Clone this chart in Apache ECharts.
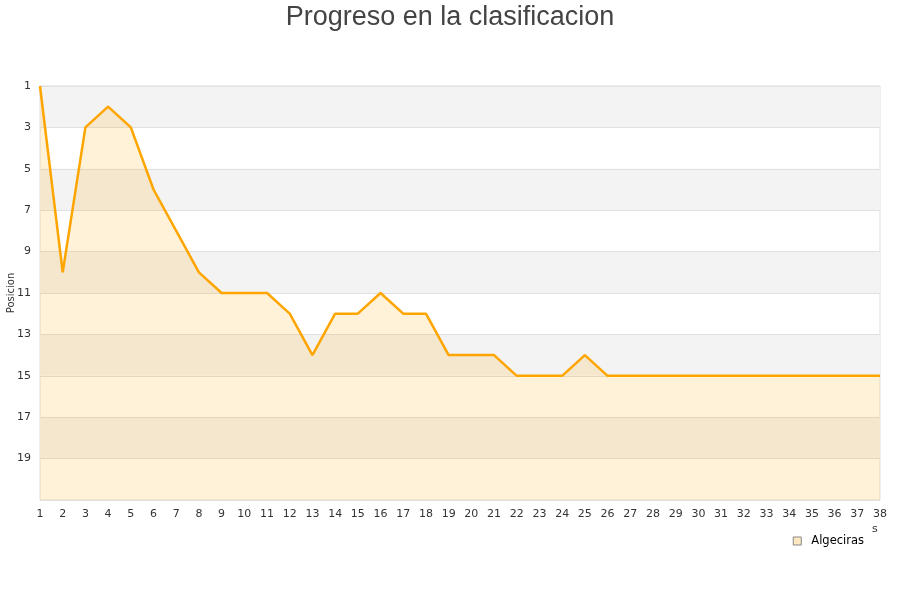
<!DOCTYPE html>
<html><head><meta charset="utf-8">
<script src="https://cdn.jsdelivr.net/npm/echarts@6/dist/echarts.min.js"></script>
<style>html,body{margin:0;padding:0;background:#fff}#c{width:900px;height:600px}</style>
</head><body><div id="c"></div>
<script>
const jornadas = ['1','2','3','4','5','6','7','8','9','10','11','12','13','14','15','16','17','18','19','20','21','22','23','24','25','26','27','28','29','30','31','32','33','34','35','36','37','38'];
const posiciones = [1,10,3,2,3,6,8,10,11,11,11,12,14,12,12,11,12,12,14,14,14,15,15,15,14,15,15,15,15,15,15,15,15,15,15,15,15,15];
const equipo = 'Algeciras';
const chart = echarts.init(document.getElementById('c'));
chart.setOption({
  animation:false,
  title:{text:'Progreso en la clasificacion',left:'center',top:-1,textStyle:{fontFamily:'Liberation Sans',fontSize:27,fontWeight:'normal',color:'#444'}},
  grid:{left:40,right:20,top:86,bottom:100,containLabel:false,outerBoundsMode:'none',show:true,borderColor:'#ddd',borderWidth:1},
  legend:{data:[equipo],right:31,top:530,icon:'rect',itemWidth:8,itemHeight:8,itemGap:10,
    textStyle:{fontFamily:'DejaVu Sans',fontSize:11.5,color:'#000',padding:[0,0,0,5]},
    itemStyle:{color:'#fde8c2',borderColor:'#888',borderWidth:1}},
  xAxis:{type:'category',data:jornadas,boundaryGap:false,
    axisLine:{show:false},axisTick:{show:false},
    axisLabel:{fontFamily:'DejaVu Sans',fontSize:11,color:'#333',margin:9,interval:0},
    splitLine:{show:false}},
  yAxis:{type:'value',inverse:true,min:1,max:21,interval:2,name:'Posicion',nameLocation:'middle',nameGap:24,nameMoveOverlap:false,
    nameTextStyle:{fontFamily:'DejaVu Sans',fontSize:10,color:'#333'},
    axisLine:{show:false},axisTick:{show:false},
    axisLabel:{fontFamily:'DejaVu Sans',fontSize:11,color:'#333',margin:9,showMaxLabel:false},
    splitLine:{lineStyle:{color:'#e0e0e0'}},
    splitArea:{show:true,areaStyle:{color:['#f3f3f3','rgba(255,255,255,0)']}}},
  graphic:[{type:'text',left:872,top:524,style:{text:'s',fontFamily:'DejaVu Sans',fontSize:11,fill:'#333'}}],
  series:[{name:equipo,type:'line',data:posiciones,symbol:'none',
    lineStyle:{color:'#ffa500',width:2.5},itemStyle:{color:'#ffa500'},
    areaStyle:{color:'rgba(255,170,0,0.22)',origin:'end'}}]
});
</script></body></html>
